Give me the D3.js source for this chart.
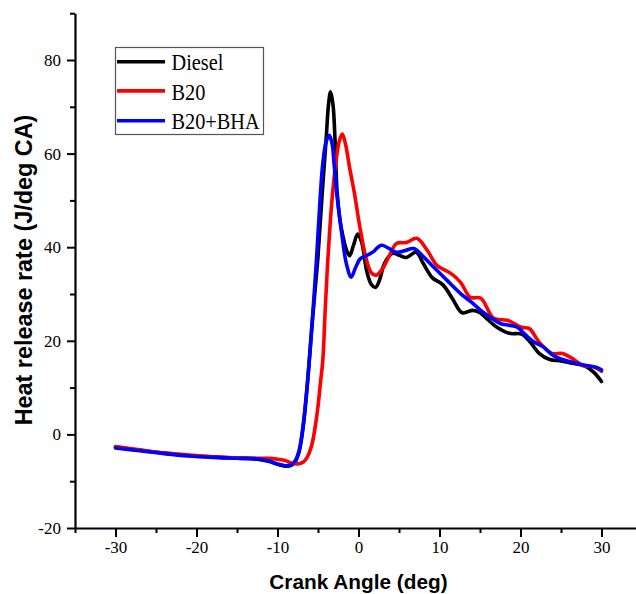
<!DOCTYPE html>
<html>
<head>
<meta charset="utf-8">
<script src="https://cdn.jsdelivr.net/npm/d3@7"></script>
<style>
  html, body { margin: 0; padding: 0; background: #fff; }
  svg { display: block; }
</style>
</head>
<body>
<svg id="chart" width="636" height="594"></svg>
<script>
// ---------- data ----------
const seriesNames = ["Diesel", "B20", "B20+BHA"];
const seriesColors = ["#000000", "#ff0000", "#0000ff"];

const dieselAngle = [-30,-27,-24,-21,-18,-15,-12.5,-11,-10,-9,-8.3,-7.8,-7.3,-6.8,-6.3,-5.8,-5.3,-5.0,-4.5,-4.0,-3.7,-3.45,-3.15,-2.9,-2.65,-2.3,-2.0,-1.5,-1.1,-0.6,-0.1,0.4,1.0,1.6,2.1,2.6,3.2,4.2,5.0,5.9,7.1,8.0,9.1,10.4,11.6,12.8,14.1,15.0,15.8,17.0,18.6,20.2,21.3,22.3,23.6,25,26.4,28.1,29.1,30];
const dieselHRR   = [-2.7,-3.4,-4.0,-4.5,-4.8,-5.1,-5.3,-5.8,-6.4,-6.8,-6.6,-5.8,-3.5,2,11,22,32,38,51,63,70.5,73.2,70.5,63,52,46,43,39.5,38.2,40.5,42.8,41,35,32,31.4,33,36.5,38.7,38.3,37.8,38.9,36.5,33.5,32,29,26,26.5,26,24.8,23,21.6,21.4,19.5,17.3,16,15.7,15.2,14.5,13.2,11.3];

const b20Angle = [-30,-27,-24,-21,-18,-15,-12.5,-11,-10,-9,-8.3,-7.5,-6.8,-6.3,-5.8,-5.4,-5.0,-4.7,-4.4,-4.1,-3.8,-3.5,-3.2,-2.8,-2.4,-2.0,-1.6,-1.1,-0.5,0.2,1.0,1.6,2.2,3.0,3.7,4.7,5.9,7.2,8.5,9.7,11.4,12.6,13.8,15.1,16.7,18.4,20.1,21.1,22.3,23.9,25.2,26.4,27.7,28.9,30];
const b20HRR   = [-2.6,-3.3,-4.0,-4.4,-4.8,-5.0,-5.1,-5.1,-5.3,-5.6,-6.1,-6.3,-5.9,-4.8,-2.5,1,6,11,16,27,37,45,51.5,58,62.5,64.2,62,57,51.5,44,37.2,34.5,34,35.5,37.8,40.8,41,41.9,39.3,36.1,34.4,32.5,29.3,29.1,24.8,24.4,22.9,22.6,19.7,17.3,17.3,16.2,14.7,14.5,13.5];

const bhaAngle = [-30,-27,-24,-21,-18,-15,-12.5,-11,-10,-9,-8.3,-7.8,-7.3,-6.8,-6.3,-5.8,-5.2,-4.7,-4.4,-4.0,-3.6,-3.25,-3.0,-2.65,-2.0,-1.5,-0.9,-0.4,0.2,1.0,1.8,2.8,3.7,4.7,5.8,6.8,8.0,9.3,11.0,12.6,13.9,15.1,16.3,17.5,18.6,19.6,20.6,21.7,22.8,24,25.2,26.4,28.1,29.2,30];
const bhaHRR   = [-2.9,-3.5,-4.1,-4.6,-4.9,-5.1,-5.2,-5.7,-6.3,-6.7,-6.5,-5.6,-3.2,2.5,11,22,37,51.5,58,62.5,63.9,62,57.5,51,42,36.5,33.6,35.5,37.5,38.2,39,40.4,39.8,38.9,39.3,39.7,38,35.7,32.8,30.1,28.3,26.5,25,23.7,23.3,22.9,21.3,19.7,18.7,16.9,16,15.4,14.7,14.4,13.8];

const xTicks = [-35,-30,-25,-20,-15,-10,-5,0,5,10,15,20,25,30,35];
const xTickLabels = [-30,-20,-10,0,10,20,30];
const yTicks = [-20,-10,0,10,20,30,40,50,60,70,80,90];
const yTickLabels = [-20,0,20,40,60,80];

const xTitle = "Crank Angle (deg)";
const yTitle = "Heat release rate (J/deg CA)";

// ---------- chart ----------
const svg = d3.select("#chart");
const x = d3.scaleLinear().domain([-35, 35]).range([75, 642]);
const y = d3.scaleLinear().domain([-20, 90]).range([528, 13.2]);

const serif = "'Liberation Serif', 'Times New Roman', serif";
const sans = "'Liberation Sans', Arial, sans-serif";

// x axis
const xAxis = d3.axisBottom(x).tickValues(xTicks).tickSizeOuter(0)
  .tickFormat(d => xTickLabels.includes(d) ? d : "");
const gx = svg.append("g").attr("transform", `translate(0,${y(-20)})`).call(xAxis);
gx.attr("font-family", null).attr("font-size", null);
gx.select(".domain").attr("stroke", "#000").attr("stroke-width", 2.2);
gx.selectAll(".tick line").attr("stroke", "#000").attr("stroke-width", 2)
  .attr("y2", d => d % 10 === 0 ? 9 : 5);
gx.selectAll(".tick text")
  .style("font-family", serif).style("font-size", "17px")
  .attr("fill", "#000").attr("y", 13);

// y axis
const yAxis = d3.axisLeft(y).tickValues(yTicks).tickSizeOuter(0)
  .tickFormat(d => yTickLabels.includes(d) ? d : "");
const gy = svg.append("g").attr("transform", `translate(${x(-35)},0)`).call(yAxis);
gy.attr("font-family", null).attr("font-size", null);
gy.select(".domain").attr("stroke", "#000").attr("stroke-width", 2.2);
gy.selectAll(".tick line").attr("stroke", "#000").attr("stroke-width", 2)
  .attr("x2", d => d % 20 === 0 ? -8 : -5);
gy.selectAll(".tick text")
  .style("font-family", serif).style("font-size", "17px")
  .attr("fill", "#000").attr("x", -14);

// lines
const lineGen = d3.line()
  .x(d => x(d[0])).y(d => y(d[1]))
  .curve(d3.curveCatmullRom.alpha(0.5));

const seriesData = [
  d3.zip(dieselAngle, dieselHRR),
  d3.zip(b20Angle, b20HRR),
  d3.zip(bhaAngle, bhaHRR)
];

seriesData.forEach((data, i) => {
  svg.append("path")
    .datum(data)
    .attr("fill", "none")
    .attr("stroke", seriesColors[i])
    .attr("stroke-width", 3.6)
    .attr("stroke-linejoin", "round")
    .attr("stroke-linecap", "round")
    .attr("d", lineGen);
});

// legend
const lg = svg.append("g");
lg.append("rect")
  .attr("x", 115.5).attr("y", 47.5).attr("width", 148).attr("height", 87)
  .attr("fill", "#fff").attr("stroke", "#555").attr("stroke-width", 1.2);
const legendY = [61.7, 90.9, 120.7];
seriesNames.forEach((name, i) => {
  lg.append("line")
    .attr("x1", 117).attr("x2", 165)
    .attr("y1", legendY[i]).attr("y2", legendY[i])
    .attr("stroke", seriesColors[i]).attr("stroke-width", 3.6);
  lg.append("text")
    .attr("transform", `translate(171.5,${legendY[i] + 8.6}) scale(1,1.12)`)
    .style("font-family", serif).style("font-size", "20.3px").attr("fill", "#000")
    .text(name);
});

// axis titles
svg.append("text")
  .attr("x", 358.5).attr("y", 589)
  .attr("text-anchor", "middle")
  .style("font-family", sans).style("font-weight", "bold").style("font-size", "20.8px")
  .attr("fill", "#000")
  .text(xTitle);

svg.append("text")
  .attr("transform", "translate(32,270) rotate(-90)")
  .attr("text-anchor", "middle")
  .style("font-family", sans).style("font-weight", "bold").style("font-size", "23.4px")
  .attr("fill", "#000")
  .text(yTitle);
</script>
</body>
</html>
